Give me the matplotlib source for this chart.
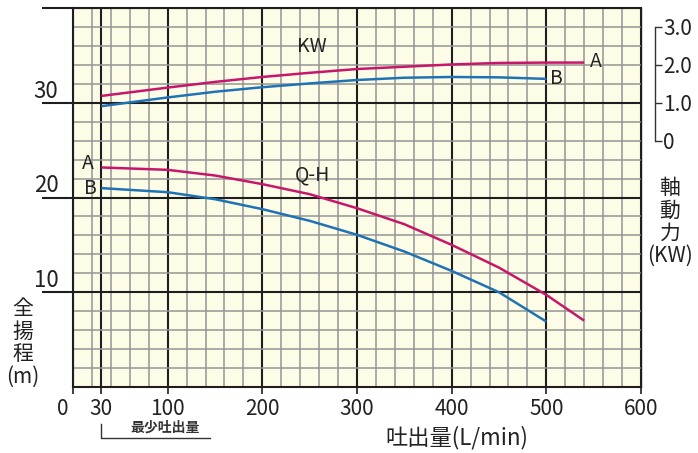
import matplotlib
matplotlib.use("Agg")
import matplotlib.pyplot as plt

plt.rcParams["font.family"] = ["Noto Sans CJK JP", "DejaVu Sans"]

# 吐出量 (L/min) vs 全揚程 (m)
qh_a_q = [30, 100, 150, 200, 250, 300, 350, 400, 450, 500, 540]
qh_a_h = [23.17, 22.92, 22.32, 21.41, 20.35, 18.87, 17.18, 15.0, 12.6, 9.72, 7.0]
qh_b_q = [30, 100, 150, 200, 250, 300, 350, 400, 450, 500]
qh_b_h = [20.99, 20.56, 19.82, 18.77, 17.54, 16.06, 14.3, 12.25, 10.0, 6.9]

# 軸動力 (KW)
kw_a_q = [30, 100, 150, 200, 250, 300, 350, 400, 450, 500, 540]
kw_a_p = [1.18, 1.40, 1.55, 1.68, 1.79, 1.89, 1.95, 2.01, 2.05, 2.06, 2.06]
kw_b_q = [30, 100, 150, 200, 250, 300, 350, 400, 450, 500]
kw_b_p = [0.91, 1.14, 1.29, 1.41, 1.51, 1.60, 1.66, 1.68, 1.67, 1.63]

x_ticks = [0, 30, 100, 200, 300, 400, 500, 600]
x_labels = ["0 ", "30", "100", "200", "300", "400", "500", "600"]
y_ticks = [10, 20, 30, 40]
y_labels = ["10", "20", "30", ""]
kw_ticks = [0, 1, 2, 3]
kw_labels = ["0", "1.0", "2.0", "3.0"]

RED = "#C8176A"
BLUE = "#1F73B4"
DARK = "#1E1E1E"

fig = plt.figure(figsize=(6.98, 4.53), dpi=100)
ax = fig.add_axes([73 / 698, 66 / 453, 568 / 698, 379 / 453])
ax.set_facecolor("#FDFDE7")
ax.set_xlim(0, 600)
ax.set_ylim(0, 40)

# grid
ax.set_xticks(x_ticks)
ax.set_xticklabels(x_labels, fontsize=15)
ax.set_xticks(range(0, 601, 20), minor=True)
ax.set_yticks(y_ticks)
ax.set_yticklabels(y_labels, fontsize=16)
ax.set_yticks(range(0, 41, 2), minor=True)
ax.grid(which="minor", color="#959595", lw=1.1, ls="-")
ax.grid(which="major", color=DARK, lw=1.5, ls="-")
ax.set_axisbelow(True)

ax.tick_params(axis="x", which="major", direction="out", length=5, width=1.2,
               color=DARK, pad=3, labelcolor="#222")
ax.tick_params(axis="y", which="major", direction="out", length=22, width=1.5,
               color=DARK, pad=-11.5, labelcolor="#222")
ax.tick_params(which="minor", length=0)
ax.get_xticklabels()[0].set_ha("right")
for lbl in ax.get_yticklabels():
    lbl.set_va("bottom")

for s in ["left", "bottom", "top"]:
    ax.spines[s].set_color(DARK)
    ax.spines[s].set_linewidth(1.5)
ax.spines["right"].set_color(DARK)
ax.spines["right"].set_linewidth(1.0)

# Q-H curves
ax.plot(qh_a_q, qh_a_h, color=RED, lw=1.8, solid_capstyle="butt")
ax.plot(qh_b_q, qh_b_h, color=BLUE, lw=1.8, solid_capstyle="butt")

# KW curves on the power axis
ax2 = ax.twinx()
ax2.set_ylim(-6.5, 3.5)
ax2.plot(kw_a_q, kw_a_p, color=RED, lw=1.8, solid_capstyle="butt")
ax2.plot(kw_b_q, kw_b_p, color=BLUE, lw=1.8, solid_capstyle="butt")
for s in ["left", "bottom", "top"]:
    ax2.spines[s].set_visible(False)
ax2.spines["right"].set_position(("outward", 10))
ax2.spines["right"].set_bounds(0, 3)
ax2.spines["right"].set_color("#333")
ax2.spines["right"].set_linewidth(1.0)
ax2.set_yticks(kw_ticks)
ax2.set_yticklabels(kw_labels, fontsize=15)
ax2.tick_params(axis="y", direction="out", length=5, width=1.0, color="#333",
                pad=1, labelcolor="#222")

# curve labels
ax.text(252, 35.9, "KW", fontsize=14, ha="center", va="center", color="#222")
ax.text(253, 22.4, "Q-H", fontsize=14, ha="center", va="center", color="#222")
ax.text(552, 34.4, "A", fontsize=14, ha="center", va="center", color="#222")
ax.text(511, 32.6, "B", fontsize=14, ha="center", va="center", color="#222")
ax.text(16, 23.6, "A", fontsize=14, ha="center", va="center", color="#222")
ax.text(18, 21.0, "B", fontsize=14, ha="center", va="center", color="#222")

# axis titles
fig.text(23 / 698, 1 - 343 / 453, "全\n揚\n程\n(m)", fontsize=15, ha="center",
         va="center", linespacing=1.05, color="#222")
fig.text(670 / 698, 1 - 222 / 453, "軸\n動\n力\n(KW)", fontsize=15, ha="center",
         va="center", linespacing=1.05, color="#222")
fig.text(457 / 698, 1 - 438 / 453, "吐出量(L/min)", fontsize=16, ha="center",
         va="center", color="#222")

# minimum flow bracket
xt = ax.get_xaxis_transform()
ax.plot([30, 30, 145], [-0.098, -0.135, -0.135], transform=xt, color="#333",
        lw=1.0, clip_on=False)
ax.text(97, -0.108, "最少吐出量", transform=xt, fontsize=10, fontweight="bold",
        ha="center", va="center", color="#333")

fig.savefig("out.png", dpi=100)
